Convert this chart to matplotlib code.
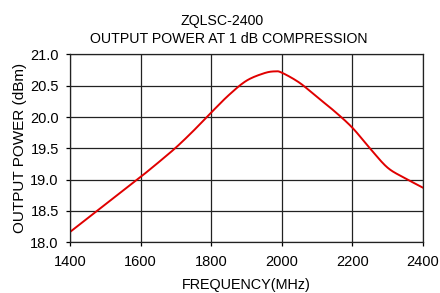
import matplotlib
matplotlib.use('Agg')
import matplotlib.pyplot as plt
import numpy as np

plt.rcParams['font.family'] = ['Liberation Sans', 'DejaVu Sans']

# Output power
freq = [1400, 1450, 1500, 1550, 1600, 1650, 1700, 1750, 1800, 1850,
        1900, 1950, 1980, 2000, 2050, 2100, 2150, 2200, 2250, 2300, 2350, 2400]
power = [18.16, 18.38, 18.60, 18.82, 19.04, 19.27, 19.51, 19.78, 20.07, 20.35,
         20.58, 20.70, 20.73, 20.71, 20.55, 20.32, 20.09, 19.83, 19.50, 19.19, 19.02, 18.87]

xticks = [1400, 1600, 1800, 2000, 2200, 2400]
yticks = [18.0, 18.5, 19.0, 19.5, 20.0, 20.5, 21.0]


def catmull_rom(x, y, n=20):
    # smooth curve through the read points
    x = np.asarray(x, float)
    y = np.asarray(y, float)
    px = np.concatenate([[2 * x[0] - x[1]], x, [2 * x[-1] - x[-2]]])
    py = np.concatenate([[2 * y[0] - y[1]], y, [2 * y[-1] - y[-2]]])
    ox, oy = [], []
    t = np.linspace(0, 1, n, endpoint=False)
    for i in range(1, len(px) - 2):
        for arr, out in ((px, ox), (py, oy)):
            p0, p1, p2, p3 = arr[i - 1], arr[i], arr[i + 1], arr[i + 2]
            out.extend(0.5 * (2 * p1 + (-p0 + p2) * t
                              + (2 * p0 - 5 * p1 + 4 * p2 - p3) * t ** 2
                              + (-p0 + 3 * p1 - 3 * p2 + p3) * t ** 3))
    ox.append(x[-1])
    oy.append(y[-1])
    return ox, oy


xs, ys = catmull_rom(freq, power)

fig = plt.figure(figsize=(4.4, 2.93), dpi=100)
ax = fig.add_axes([0.159, 0.174, 0.802, 0.640])
ax.plot(xs, ys, color='#e00000', lw=1.4)

ax.set_xlim(1400, 2400)
ax.set_ylim(18.0, 21.0)
ax.set_xticks(xticks)
ax.set_yticks(yticks)
ax.set_yticklabels([f'{v:.1f}' for v in yticks])
ax.grid(True, color='#222222', lw=0.9)
ax.set_axisbelow(True)
for s in ax.spines.values():
    s.set_color('#222222')
    s.set_linewidth(0.9)
ax.tick_params(axis='both', direction='out', length=3, width=0.9,
               labelsize=10.5, colors='black')
ax.tick_params(axis='x', pad=6)
ax.tick_params(axis='y', pad=5)

ax.set_xlabel('FREQUENCY(MHz)', fontsize=10.4, labelpad=7)
ax.set_ylabel('OUTPUT POWER (dBm)', fontsize=11, labelpad=2)
fig.text(0.505, 0.915, 'ZQLSC-2400', ha='center', va='baseline', fontsize=10.2)
fig.text(0.519, 0.854, 'OUTPUT POWER AT 1 dB COMPRESSION', ha='center', va='baseline', fontsize=10.2)

fig.savefig('out.png', dpi=100)
